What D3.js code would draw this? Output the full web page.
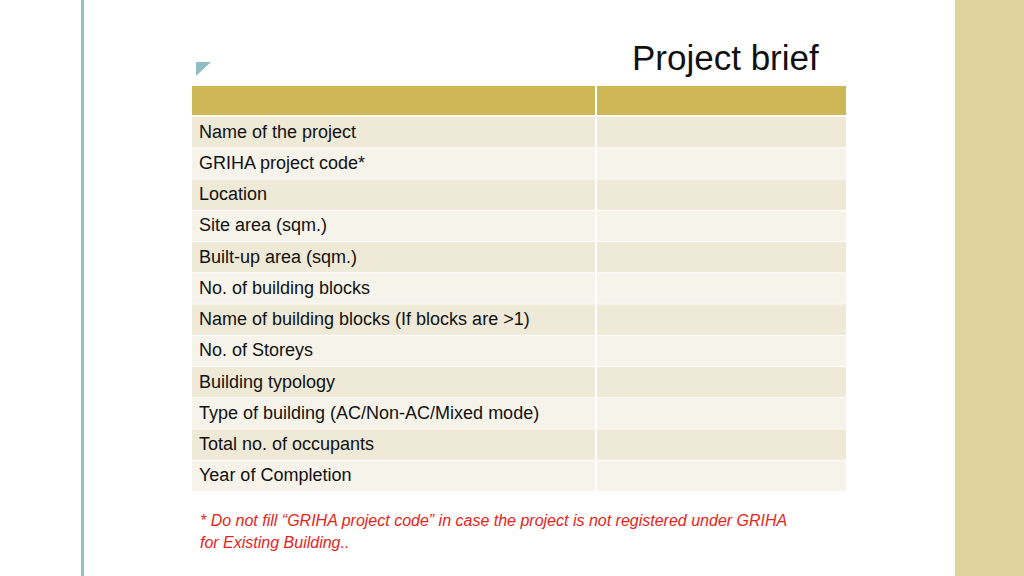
<!DOCTYPE html><html><head><meta charset="utf-8">
<script src="https://cdn.jsdelivr.net/npm/d3@7"></script>
<style>body{margin:0;background:#fff}svg{display:block}</style></head><body>
<script>
const title = "Project brief";
const rows = ["Name of the project","GRIHA project code*","Location","Site area (sqm.)","Built-up area (sqm.)","No. of building blocks","Name of building blocks (If blocks are >1)","No. of Storeys","Building typology","Type of building (AC/Non-AC/Mixed mode)","Total no. of occupants","Year of Completion"];
const notes = ["* Do not fill \u201cGRIHA project code\u201d in case the project is not registered under GRIHA","for Existing Building.."];
const columns = ["label","value"];

const svg = d3.select("body").append("svg").attr("width",1024).attr("height",576);
const font = "Liberation Sans, Arial, sans-serif";
svg.append("rect").attr("x",81).attr("y",0).attr("width",3).attr("height",576).attr("fill","#8fc3c7");
svg.append("rect").attr("x",955).attr("y",0).attr("width",69).attr("height",576).attr("fill","#e0d49c");
svg.append("text").attr("x",632).attr("y",70).attr("font-family",font).attr("font-size",35).attr("fill","#111").text(title);
svg.append("path").attr("d","M196,62L211,62L196,76Z").attr("fill","#8fbfc4");

const x = d3.scaleOrdinal().domain(columns).range([192,597]);
const w = {label:403, value:249};
const y = d3.scaleBand().domain(d3.range(rows.length)).range([117,490]).paddingInner(0.06);
columns.forEach(c=>svg.append("rect").attr("x",x(c)).attr("y",86).attr("width",w[c]).attr("height",29).attr("fill","#cdb756"));
rows.forEach((r,i)=>{
  columns.forEach(c=>svg.append("rect").attr("x",x(c)).attr("y",y(i)).attr("width",w[c]).attr("height",y.bandwidth()+1)
    .attr("fill", i%2===0?"#efe9d8":"#f6f3ea"));
  svg.append("text").attr("x",199).attr("y",y(i)+y.bandwidth()/2+6).attr("font-family",font).attr("font-size",18).attr("fill","#111").text(r);
});
notes.forEach((n,i)=>svg.append("text").attr("x",200).attr("y",526+i*22).attr("font-family",font).attr("font-size",16).attr("font-style","italic").attr("fill","#e8231a").text(n));
</script></body></html>
